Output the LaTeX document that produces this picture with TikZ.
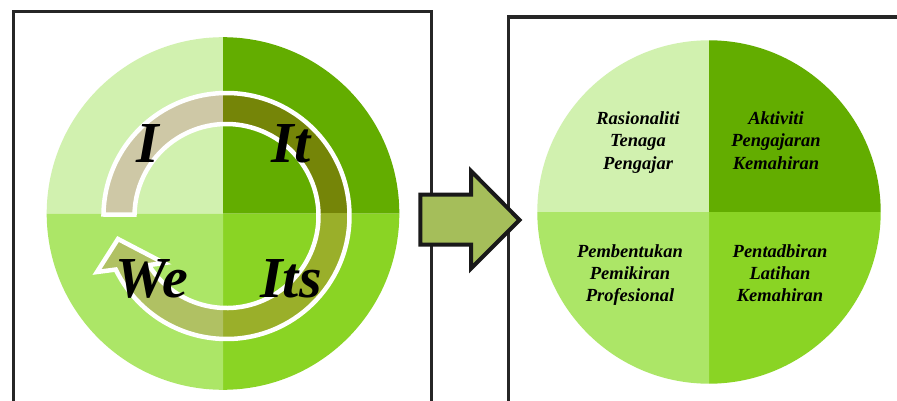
\documentclass[tikz,border=0pt]{standalone}
\usepackage{fontspec}
\setmainfont{Liberation Serif}
\definecolor{qTL}{HTML}{D1F1AF}
\definecolor{qTR}{HTML}{63AD00}
\definecolor{qBL}{HTML}{ACE667}
\definecolor{qBR}{HTML}{8AD424}
\definecolor{bTL}{HTML}{CEC8A6}
\definecolor{bTR}{HTML}{758508}
\definecolor{bBR}{HTML}{9AAF2A}
\definecolor{bBL}{HTML}{B0C163}
\definecolor{arrowfill}{HTML}{A5BE5A}
\definecolor{framec}{HTML}{262626}
\begin{document}
\begin{tikzpicture}[x=1pt,y=-1pt,
  framestyle/.style={draw=framec, line width=3.5pt},
  biglbl/.style={inner sep=0pt, anchor=base, text=black, font=\fontsize{58}{58}\selectfont\bfseries\itshape},
  quadtext/.style={inner sep=0pt, anchor=base, text=black, font=\fontsize{18.5}{22}\selectfont\bfseries\itshape}]
\useasboundingbox (0,0) rectangle (897,401);
\clip (0,0) rectangle (897,401);
\fill[white] (0,0) rectangle (897,401);
% frames
\draw[framestyle] (13.3,410) -- (13.3,11.3) -- (431.7,11.3) -- (431.7,410);
\draw[framestyle] (508.7,410) -- (508.7,17) -- (910,17);
% left circle quadrants
\def\lcx{223}\def\lcy{213.5}\def\lr{176.3}
\fill[qTL] (\lcx,\lcy) -- ++(180:\lr) arc[start angle=180,end angle=270,radius=\lr] -- cycle;
\fill[qTR] (\lcx,\lcy) -- ++(270:\lr) arc[start angle=270,end angle=360,radius=\lr] -- cycle;
\fill[qBR] (\lcx,\lcy) -- ++(0:\lr) arc[start angle=0,end angle=90,radius=\lr] -- cycle;
\fill[qBL] (\lcx,\lcy) -- ++(90:\lr) arc[start angle=90,end angle=180,radius=\lr] -- cycle;
% circular arrow
\def\ringpath{(103.5,214.5) arc[start angle=180.7,end angle=514.2,radius=123] -- (97,272) -- (118,239) -- (164,263) -- (148.7,265.1) arc[start angle=507.75,end angle=180.9,radius=92] -- cycle}
\begin{scope}\clip (0,0) rectangle (223,213.5); \fill[bTL] \ringpath; \end{scope}
\begin{scope}\clip (223,0) rectangle (450,213.5); \fill[bTR] \ringpath; \end{scope}
\begin{scope}\clip (223,213.5) rectangle (450,401); \fill[bBR] \ringpath; \end{scope}
\begin{scope}\clip (0,213.5) rectangle (223,401); \fill[bBL] \ringpath; \end{scope}
\draw[white, line width=4.5pt, line join=miter] \ringpath;
% labels
\node[biglbl] (lI) at (148,163) {I};
\node[biglbl] (lIt) at (291,163) {It};
\node[biglbl] (lWe) at (152,297) {We};
\node[biglbl] (lIts) at (291,297) {Its};
% right circle
\def\rcx{709}\def\rcy{212}\def\rr{171.7}
\fill[qTL] (\rcx,\rcy) -- ++(180:\rr) arc[start angle=180,end angle=270,radius=\rr] -- cycle;
\fill[qTR] (\rcx,\rcy) -- ++(270:\rr) arc[start angle=270,end angle=360,radius=\rr] -- cycle;
\fill[qBR] (\rcx,\rcy) -- ++(0:\rr) arc[start angle=0,end angle=90,radius=\rr] -- cycle;
\fill[qBL] (\rcx,\rcy) -- ++(90:\rr) arc[start angle=90,end angle=180,radius=\rr] -- cycle;
\setlength{\tabcolsep}{0pt}
\node[quadtext] (tTL) at (638,125) {\begin{tabular}[t]{c}Rasionaliti\\Tenaga\\Pengajar\end{tabular}};
\node[quadtext] (tTR) at (776,125) {\begin{tabular}[t]{c}Aktiviti\\Pengajaran\\Kemahiran\end{tabular}};
\node[quadtext] (tBL) at (630,257.7) {\begin{tabular}[t]{c}Pembentukan\\Pemikiran\\Profesional\end{tabular}};
\node[quadtext] (tBR) at (780,257.7) {\begin{tabular}[t]{c}Pentadbiran\\Latihan\\Kemahiran\end{tabular}};
% block arrow
\draw[fill=arrowfill, draw=black!90, line width=4pt, line join=miter, miter limit=10]
  (420.3,194.7) -- (471,194.7) -- (471,171) -- (519.5,220) -- (471,268.5) -- (471,244.7) -- (420.3,244.7) -- cycle;
\end{tikzpicture}
\end{document}
